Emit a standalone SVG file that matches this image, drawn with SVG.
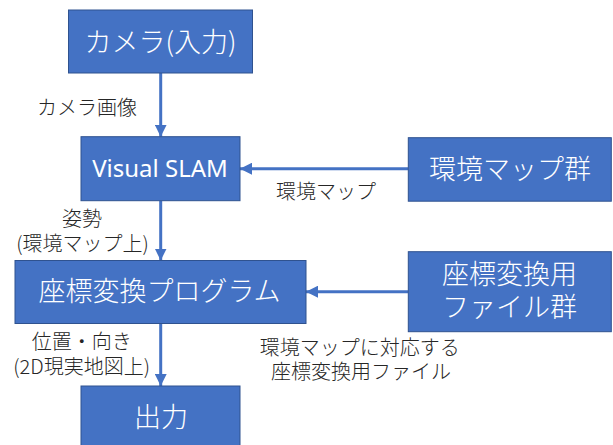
<svg xmlns="http://www.w3.org/2000/svg" width="613" height="445" viewBox="0 0 613 445">
<style>
.box{fill:#4472C4;stroke:#2F528F;stroke-width:1}
.bt{font-family:"Noto Sans CJK JP","Noto Sans",sans-serif;font-size:27px;font-weight:300;fill:#FFFFFF;text-anchor:middle}
.lt{font-family:"Noto Sans",sans-serif;font-size:24px;fill:#FFFFFF;text-anchor:middle}
.lb{font-family:"Noto Sans CJK JP","Noto Sans",sans-serif;font-size:20px;font-weight:300;fill:#262626;text-anchor:middle}
.cn{stroke:#4472C4;stroke-width:3;fill:none}
</style>
<defs>
<marker id="ah" markerUnits="userSpaceOnUse" markerWidth="12" markerHeight="12" viewBox="0 0 12 12" refX="12" refY="6" orient="auto">
<path d="M0,0 L12,6 L0,12 z" fill="#4472C4"/>
</marker>
</defs>
<g id="connectors">
<line class="cn" x1="160.7" y1="73" x2="160.7" y2="136.7" marker-end="url(#ah)"/>
<line class="cn" x1="408" y1="168.7" x2="240" y2="168.7" marker-end="url(#ah)"/>
<line class="cn" x1="160.7" y1="200.7" x2="160.7" y2="260.5" marker-end="url(#ah)"/>
<line class="cn" x1="408" y1="291.7" x2="306" y2="291.7" marker-end="url(#ah)"/>
<line class="cn" x1="160.7" y1="323.5" x2="160.7" y2="386" marker-end="url(#ah)"/>
<text class="lb" x="87" y="114.6">カメラ画像</text>
<text class="lb" x="326" y="199.3">環境マップ</text>
<text class="lb" x="82" y="225.6">姿勢</text>
<text class="lb" x="82.5" y="250.6">(環境マップ上)</text>
<text class="lb" x="81.7" y="349.3">位置・向き</text>
<text class="lb" x="81.7" y="374.3">(2D現実地図上)</text>
<text class="lb" x="359.7" y="355.1">環境マップに対応する</text>
<text class="lb" x="361" y="378.6">座標変換用ファイル</text>
</g>
<g id="camera">
<rect class="box" x="68.5" y="10" width="184" height="63"/>
<text class="bt" x="160.5" y="52.3">カメラ(入力)</text>
</g>
<g id="slam">
<rect class="box" x="81" y="136.7" width="159" height="64"/>
<text class="lt" x="160" y="177">Visual SLAM</text>
</g>
<g id="envmaps">
<rect class="box" x="408.3" y="137.7" width="203" height="63.5"/>
<text class="bt" x="510" y="178.8">環境マップ群</text>
</g>
<g id="program">
<rect class="box" x="15" y="260.5" width="291" height="63"/>
<text class="bt" x="159.5" y="301.3">座標変換プログラム</text>
</g>
<g id="files">
<rect class="box" x="408.3" y="251.7" width="203" height="80"/>
<text class="bt" x="509.5" y="284">座標変換用</text>
<text class="bt" x="509.5" y="316.6">ファイル群</text>
</g>
<g id="output">
<rect class="box" x="81" y="386" width="159" height="64"/>
<text class="bt" x="161" y="427">出力</text>
</g>
</svg>
